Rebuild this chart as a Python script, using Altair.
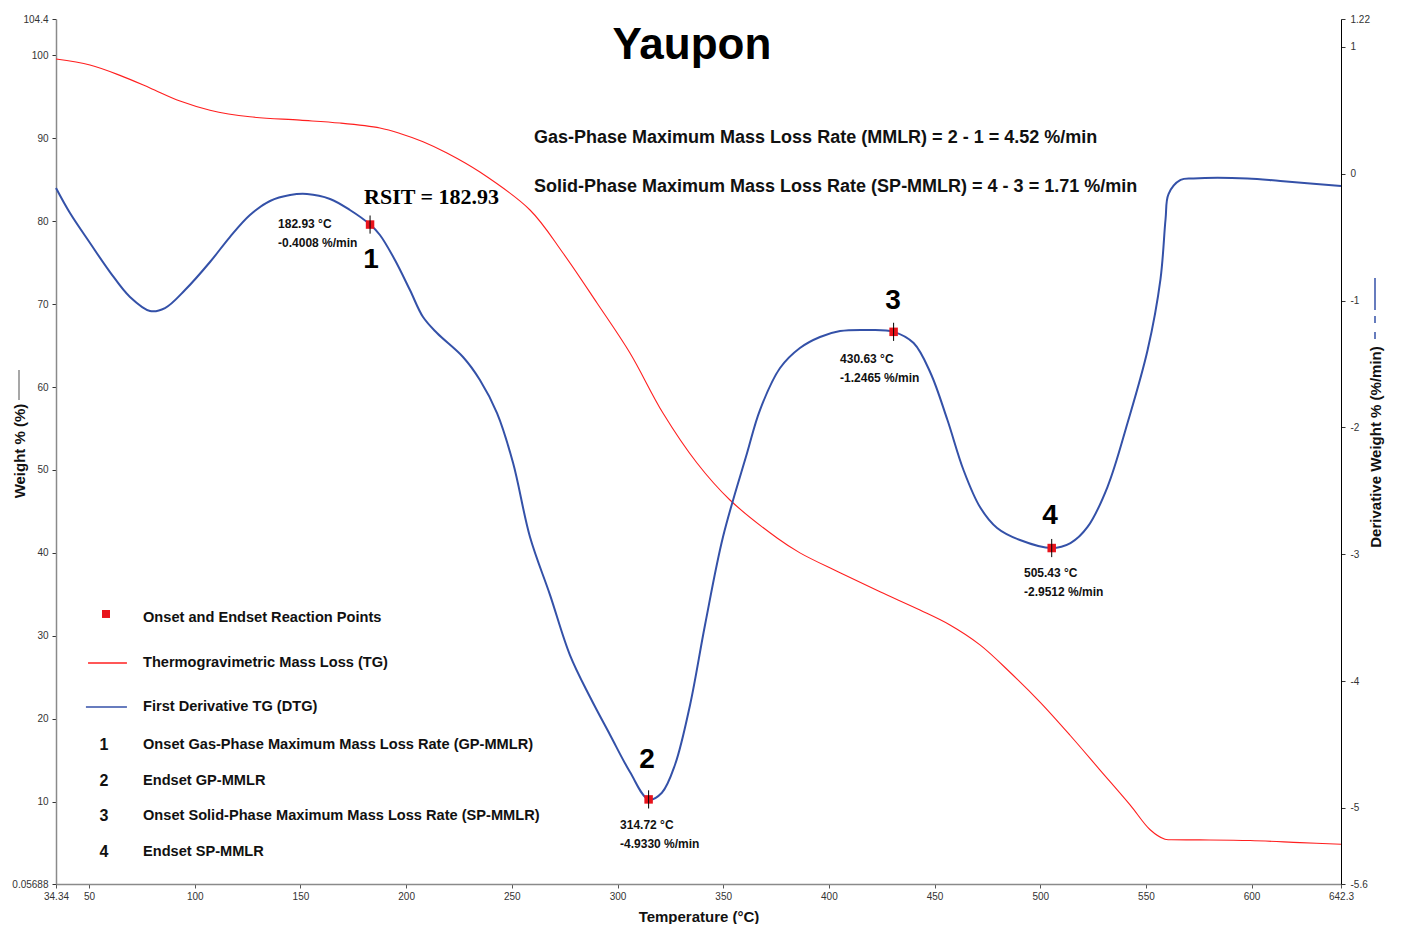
import altair as alt
import pandas as pd

# ---------------- data ----------------
TG_T = [34.34, 50.4, 64.6, 78.8, 93.0, 107.2, 126.1, 149.8, 168.7, 187.6, 197.1, 208.0,
        219.3, 234.9, 258.6, 274.2, 290.3, 305.9, 321.5, 337.6, 353.2, 375.5, 386.3,
        405.3, 424.2, 443.1, 457.3, 471.5, 485.7, 499.9, 514.1, 528.3, 542.5, 552.0,
        559.0, 562.0, 575.6, 599.3, 623.0, 642.3]
TG_W = [99.57, 98.85, 97.6, 96.08, 94.5, 93.4, 92.6, 92.2, 91.85, 91.25, 90.6, 89.6,
        88.24, 85.94, 81.36, 76.17, 70.14, 64.11, 56.87, 50.84, 46.38, 41.79, 40.0,
        37.6, 35.3, 33.1, 31.3, 28.9, 25.6, 22.0, 18.0, 13.8, 9.6, 6.6,
        5.45, 5.4, 5.38, 5.3, 5.05, 4.85]

DTG_T = [34.34, 40.96, 50.43, 59.89, 69.35, 78.81, 85.91, 95.37, 107.2, 116.6, 126.1,
         135.6, 145.1, 153.1, 164.0, 173.4, 182.93, 187.6, 194.7, 201.8, 208.0, 214.6,
         226.9, 234.9, 243.0, 250.6, 258.6, 268.1, 277.5, 287.0, 296.5, 305.9, 314.72,
         321.0, 327.2, 334.3, 341.4, 349.9, 361.3, 367.4, 376.9, 386.3, 395.8, 405.3, 419.5,
         430.63, 440.1, 448.1, 456.1, 463.7, 471.5, 479.6, 490.4, 505.43, 514.3, 522.4,
         531.8, 541.3, 550.8, 556.9, 559.3, 560.7, 566.4, 572.5, 598.0, 613.6, 642.3]
DTG_D = [-0.1125, -0.310, -0.546, -0.775, -0.972, -1.082, -1.059, -0.917, -0.696, -0.499,
         -0.325, -0.215, -0.168, -0.160, -0.199, -0.286, -0.4008, -0.483, -0.680, -0.917,
         -1.130, -1.256, -1.445, -1.626, -1.887, -2.281, -2.864, -3.322, -3.795, -4.126,
         -4.425, -4.717, -4.933, -4.88, -4.66, -4.19, -3.558, -2.864, -2.202, -1.863,
         -1.532, -1.374, -1.287, -1.240, -1.232, -1.2465, -1.335, -1.571, -1.942, -2.336,
         -2.628, -2.793, -2.888, -2.9512, -2.912, -2.785, -2.470, -1.965, -1.390, -0.830,
         -0.357, -0.160, -0.049, -0.037, -0.037, -0.057, -0.097]

PT_T = [182.93, 314.72, 430.63, 505.43]
PT_D = [-0.4008, -4.9330, -1.2465, -2.9512]
PT_NUM = ["1", "2", "3", "4"]
NUM_T = [183.4, 314.0, 430.4, 504.6]
NUM_D = [-0.68, -4.62, -1.0, -2.70]
LBL_T = [139.4, 301.2, 405.3, 492.3]
LBL_D1 = [-0.396, -5.135, -1.461, -3.148]
LBL_D2 = [-0.546, -5.285, -1.611, -3.298]

LEG_TEXT = ["Onset and Endset Reaction Points", "Thermogravimetric Mass Loss (TG)",
            "First Derivative TG (DTG)", "Onset Gas-Phase Maximum Mass Loss Rate (GP-MMLR)",
            "Endset GP-MMLR", "Onset Solid-Phase Maximum Mass Loss Rate (SP-MMLR)",
            "Endset SP-MMLR"]
LEG_W = [32.15, 26.72, 21.4, 16.8, 12.48, 8.26, 3.92]
LEG_NUM = ["1", "2", "3", "4"]

NOTE_TEXT = ["Gas-Phase Maximum Mass Loss Rate (MMLR) = 2 - 1 = 4.52 %/min",
             "Solid-Phase Maximum Mass Loss Rate (SP-MMLR) = 4 - 3 = 1.71 %/min"]
NOTE_W = [90.05, 84.14]

X_TICKS = [34.34, 50, 100, 150, 200, 250, 300, 350, 400, 450, 500, 550, 600, 642.3]
YL_TICKS = [0.05688, 10, 20, 30, 40, 50, 60, 70, 80, 90, 100, 104.4]
YR_TICKS = [-5.6, -5, -4, -3, -2, -1, 0, 1, 1.22]

# ---------------- styling ----------------
SANS = "Liberation Sans"
RED = "#ff1f1f"
BLUE = "#3451a8"
LBL_EXPR = "replace(format(datum.value, '~g'), '\u2212', '-')"

xs = alt.Scale(domain=[34.34, 642.3], nice=False, zero=False)
yl = alt.Scale(domain=[0.05688, 104.4], nice=False, zero=False)
yr = alt.Scale(domain=[-5.6, 1.22], nice=False, zero=False)

tg = pd.DataFrame({"t": TG_T, "w": TG_W})
dtg = pd.DataFrame({"t": DTG_T, "d": DTG_D})
pts = pd.DataFrame({"t": PT_T, "d": PT_D, "n": PT_NUM, "nt": NUM_T, "nd": NUM_D,
                    "lt": LBL_T, "l1": LBL_D1, "l2": LBL_D2,
                    "s1": [f"{v:.2f} °C" for v in PT_T],
                    "s2": [f"{v:.4f} %/min" for v in PT_D]})
leg = pd.DataFrame({"txt": LEG_TEXT, "w": LEG_W, "x": [75.5] * len(LEG_TEXT)})
legnum = pd.DataFrame({"n": LEG_NUM, "w": LEG_W[3:], "x": [57.05] * 4})
legsq = pd.DataFrame({"x": [58.0], "w": [32.63]})
leglines = pd.DataFrame({"x": [49.5, 48.5], "x2": [67.9, 67.9], "w": [26.72, 21.4],
                         "c": [RED, BLUE]})
notes = pd.DataFrame({"txt": NOTE_TEXT, "w": NOTE_W, "x": [260.5, 260.5]})
title_df = pd.DataFrame({"txt": ["Yaupon"], "x": [335.2], "w": [99.57]})
rsit = pd.DataFrame({"txt": ["RSIT = 182.93"], "x": [180.1], "w": [82.93]})

x_axis = alt.Axis(values=X_TICKS, labelExpr=LBL_EXPR, grid=False, domainColor="#8a8a8a",
                  domainWidth=1.5, tickColor="#555", tickSize=4, labelFont=SANS,
                  labelFontSize=10, labelColor="#333", labelPadding=3, labelFlush=False,
                  labelOverlap=False,
                  title="Temperature (°C)", titleFont=SANS, titleFontSize=15,
                  titleFontWeight="bold", titleColor="#111", titlePadding=8)
yl_axis = alt.Axis(values=YL_TICKS, labelExpr=LBL_EXPR, grid=False, domainColor="#8a8a8a",
                   domainWidth=1.5, tickColor="#333", tickSize=4, labelFont=SANS,
                   labelFontSize=10, labelColor="#333", labelPadding=4, labelFlush=False,
                   labelOverlap=False, title=None)
yr_axis = alt.Axis(values=YR_TICKS, labelExpr=LBL_EXPR, grid=False, orient="right",
                   domainColor="#000", domainWidth=1, tickColor="#333", tickSize=4,
                   labelFont=SANS, labelFontSize=10, labelColor="#333", labelPadding=5,
                   labelFlush=False, labelOverlap=False, title=None)

X = lambda f: alt.X(f, type="quantitative", scale=xs, axis=x_axis)
YL = lambda f: alt.Y(f, type="quantitative", scale=yl, axis=yl_axis)
YR = lambda f: alt.Y(f, type="quantitative", scale=yr, axis=yr_axis)

# ---------------- left (weight) group ----------------
tg_line = alt.Chart(tg).mark_line(color=RED, strokeWidth=1.1,
                                  interpolate="catmull-rom").encode(x=X("t"), y=YL("w"))

title_txt = alt.Chart(title_df).mark_text(font=SANS, fontSize=44, fontWeight="bold",
                                          align="center", baseline="alphabetic",
                                          color="#000").encode(x=X("x"), y=YL("w"), text="txt")
note_txt = alt.Chart(notes).mark_text(font=SANS, fontSize=18, fontWeight="bold",
                                      align="left", baseline="middle",
                                      color="#111").encode(x=X("x"), y=YL("w"), text="txt")
rsit_txt = alt.Chart(rsit).mark_text(font="Liberation Serif", fontSize=22, fontWeight="bold",
                                     align="left", baseline="middle",
                                     color="#000").encode(x=X("x"), y=YL("w"), text="txt")
leg_txt = alt.Chart(leg).mark_text(font=SANS, fontSize=14.6, fontWeight="bold", align="left",
                                   baseline="middle", color="#111").encode(
    x=X("x"), y=YL("w"), text="txt")
leg_num = alt.Chart(legnum).mark_text(font=SANS, fontSize=16, fontWeight="bold",
                                      align="center", baseline="middle",
                                      color="#111").encode(x=X("x"), y=YL("w"), text="n")
leg_sq = alt.Chart(legsq).mark_square(size=64, color="#e8141c", opacity=1).encode(
    x=X("x"), y=YL("w"))
leg_ln = alt.Chart(leglines).mark_rule(strokeWidth=1.5).encode(
    x=X("x"), x2="x2", y=YL("w"), color=alt.Color("c:N", scale=None))

# left axis title with its line sample
yl_title = alt.Chart(title_df).mark_text(text="Weight % (%)", font=SANS, fontSize=15,
                                         fontWeight="bold", angle=270, align="center",
                                         baseline="middle", color="#111").encode(
    x=alt.value(-36), y=alt.value(432))
yl_sample = alt.Chart(title_df).mark_rule(color="#8a8a8a", strokeWidth=1.5).encode(
    x=alt.value(-37), y=alt.value(351), y2=alt.value(381))

left = alt.layer(tg_line, title_txt, note_txt, rsit_txt, leg_txt, leg_num, leg_sq, leg_ln,
                 yl_title, yl_sample)

# ---------------- right (derivative) group ----------------
dtg_line = alt.Chart(dtg).mark_line(color=BLUE, strokeWidth=2,
                                    interpolate="catmull-rom").encode(x=X("t"), y=YR("d"))
pt_sq = alt.Chart(pts).mark_square(size=72, color="#e8141c", opacity=1).encode(
    x=X("t"), y=YR("d"))
pt_tick = alt.Chart(pts).mark_point(shape="M0,-1L0,1", size=330, stroke="#000",
                                    strokeWidth=1, filled=False, opacity=1).encode(
    x=X("t"), y=YR("d"))
pt_num = alt.Chart(pts).mark_text(font=SANS, fontSize=28, fontWeight="bold",
                                  align="center", baseline="middle", color="#000").encode(
    x=X("nt"), y=YR("nd"), text="n")
pt_l1 = alt.Chart(pts).mark_text(font=SANS, fontSize=12, fontWeight="bold", align="left",
                                 baseline="middle", color="#111").encode(
    x=X("lt"), y=YR("l1"), text="s1")
pt_l2 = alt.Chart(pts).mark_text(font=SANS, fontSize=12, fontWeight="bold", align="left",
                                 baseline="middle", color="#111").encode(
    x=X("lt"), y=YR("l2"), text="s2")

yr_title = alt.Chart(title_df).mark_text(text="Derivative Weight % (%/min)", font=SANS,
                                         fontSize=15, fontWeight="bold", angle=270,
                                         align="center", baseline="middle",
                                         color="#111").encode(
    x=alt.value(1320), y=alt.value(428))
yr_sample1 = alt.Chart(title_df).mark_rule(color=BLUE, strokeWidth=1.5).encode(
    x=alt.value(1319), y=alt.value(259), y2=alt.value(291))
yr_sample2 = alt.Chart(title_df).mark_rule(color=BLUE, strokeWidth=1.5,
                                           strokeDash=[7, 9]).encode(
    x=alt.value(1319), y=alt.value(297), y2=alt.value(327))

right = alt.layer(dtg_line, pt_sq, pt_tick, pt_num, pt_l1, pt_l2, yr_title, yr_sample1,
                  yr_sample2)

chart = alt.layer(left, right).resolve_scale(y="independent").properties(
    width=1285, height=865,
    autosize=alt.AutoSizeParams(type="none"),
    padding={"left": 48, "top": 11, "right": 52, "bottom": 40},
).configure_view(stroke=None)

chart.save("out.html", embed_options={"renderer": "svg", "actions": False})
